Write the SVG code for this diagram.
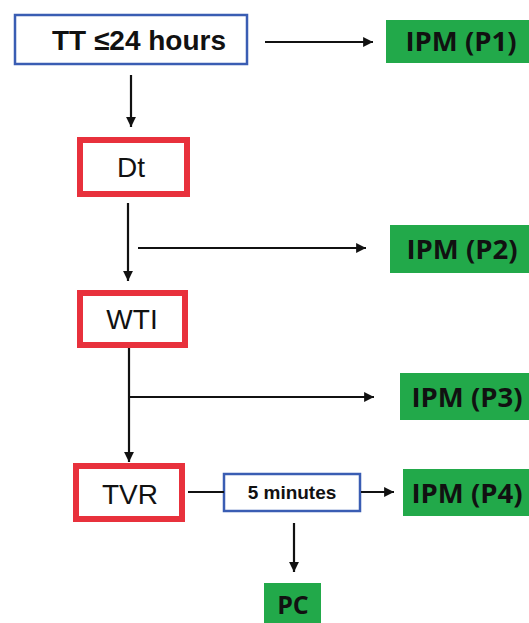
<svg xmlns="http://www.w3.org/2000/svg" width="529" height="623" viewBox="0 0 529 623">
<style>
.blue{fill:#fff;stroke:#3a5db3;stroke-width:2.5}
.red{fill:#fff;stroke:#e8313c;stroke-width:6}
.green{fill:#22a94a}
.t{font-family:"Liberation Sans",Arial,sans-serif;fill:#111;text-anchor:middle}
.g{font-family:"Open Sans","Liberation Sans",sans-serif;font-weight:bold;fill:#111;text-anchor:middle}
.b{font-weight:bold}
.ln{stroke:#111;stroke-width:2.2;fill:none}
</style>
<defs>
<marker id="ah" viewBox="0 0 10 10" refX="10" refY="5" markerWidth="5" markerHeight="4.5" orient="auto" markerUnits="strokeWidth">
<path d="M0,0 L10,5 L0,10 z" fill="#111"/>
</marker>
</defs>
<rect width="529" height="623" fill="#fff"/>
<g id="tt"><rect class="blue" x="15" y="15" width="232" height="49"/><text class="t b" x="139" y="50" font-size="28">TT ≤24 hours</text></g>
<g id="p1"><rect class="green" x="386" y="20" width="143" height="43"/><text class="g" x="461" y="51" font-size="27.5">IPM (P1)</text></g>
<g id="dt"><rect class="red" x="80" y="140" width="107" height="54"/><text class="t" x="131" y="177" font-size="28">Dt</text></g>
<g id="p2"><rect class="green" x="390" y="225" width="139" height="48"/><text class="g" x="462" y="259" font-size="27.5">IPM (P2)</text></g>
<g id="wti"><rect class="red" x="80" y="293" width="105" height="52"/><text class="t" x="132" y="329" font-size="28">WTI</text></g>
<g id="p3"><rect class="green" x="400" y="373" width="129" height="47"/><text class="g" x="467" y="407" font-size="27.5">IPM (P3)</text></g>
<g id="tvr"><rect class="red" x="76" y="466" width="106" height="53"/><text class="t" x="130" y="504" font-size="28">TVR</text></g>
<g id="min"><rect class="blue" x="224" y="474" width="136" height="37"/><text class="t b" x="292" y="499" font-size="19">5 minutes</text></g>
<g id="p4"><rect class="green" x="403" y="469" width="126" height="47"/><text class="g" x="467" y="503" font-size="27.5">IPM (P4)</text></g>
<g id="pc"><rect class="green" x="264" y="583" width="57" height="40"/><text class="g" x="293" y="614" font-size="25">PC</text></g>
<g id="connectors">
<line class="ln" x1="265" y1="42" x2="373" y2="42" marker-end="url(#ah)"/>
<line class="ln" x1="131" y1="75" x2="131" y2="127" marker-end="url(#ah)"/>
<line class="ln" x1="128" y1="203" x2="128" y2="281" marker-end="url(#ah)"/>
<line class="ln" x1="138" y1="248" x2="366" y2="248" marker-end="url(#ah)"/>
<line class="ln" x1="129" y1="348" x2="129" y2="462" marker-end="url(#ah)"/>
<line class="ln" x1="128" y1="397" x2="374" y2="397" marker-end="url(#ah)"/>
<line class="ln" x1="188" y1="492" x2="224" y2="492"/>
<line class="ln" x1="361" y1="492" x2="394" y2="492" marker-end="url(#ah)"/>
<line class="ln" x1="294" y1="523" x2="294" y2="572" marker-end="url(#ah)"/>
</g>
</svg>
